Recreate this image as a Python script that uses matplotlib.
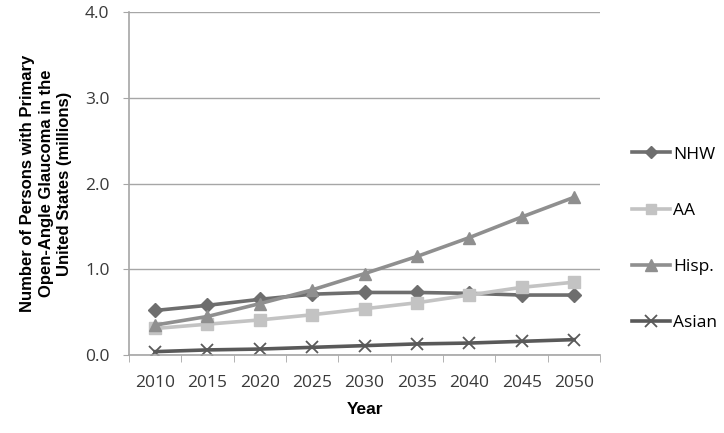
import numpy as np
from matplotlib import pyplot as plt

years = ['2010', '2015', '2020', '2025', '2030', '2035', '2040', '2045', '2050']
nhw = [0.52, 0.58, 0.65, 0.71, 0.73, 0.73, 0.72, 0.70, 0.70]
aa = [0.31, 0.36, 0.41, 0.47, 0.54, 0.61, 0.70, 0.79, 0.85]
hisp = [0.35, 0.45, 0.60, 0.76, 0.95, 1.15, 1.37, 1.61, 1.84]
asian = [0.04, 0.06, 0.07, 0.09, 0.11, 0.13, 0.14, 0.16, 0.18]

fig = plt.figure(figsize=(7.24, 4.33), dpi=100)
ax = fig.add_axes([0.178, 0.180, 0.651, 0.792])

x = np.arange(len(years))
axis_gray = '#a6a6a6'
ax.plot(x, nhw, color='#6e6e6e', lw=2.6, marker='D', ms=7, label='NHW')
ax.plot(x, aa, color='#c3c3c3', lw=2.6, marker='s', ms=8.5, label='AA')
ax.plot(x, hisp, color='#8f8f8f', lw=2.6, marker='^', ms=9, label='Hisp.')
ax.plot(x, asian, color='#595959', lw=2.6, marker='x', ms=9, mew=1.3, label='Asian')

ax.set_xlim(-0.5, len(years) - 0.5)
ax.set_ylim(0, 4)
ax.set_yticks(np.arange(0, 4.1, 1.0))
ax.set_yticklabels([f'{v:.1f}' for v in np.arange(0, 4.1, 1.0)])
ax.set_xticks(x)
ax.set_xticklabels(years)
ax.set_xticks(np.arange(-0.5, len(years)), minor=True)
ax.tick_params(axis='x', which='major', length=0, pad=14)
ax.tick_params(axis='x', which='minor', length=5, color=axis_gray, direction='out')
ax.tick_params(axis='y', length=4, color=axis_gray, pad=10)
for lbl in ax.get_xticklabels() + ax.get_yticklabels():
    lbl.set_fontfamily('Open Sans')
    lbl.set_fontsize(12.5)
    lbl.set_color('#3a3a3a')

ax.grid(axis='y', color=axis_gray, lw=1)
ax.set_axisbelow(True)
for s in ['top', 'right']:
    ax.spines[s].set_visible(False)
for s in ['left', 'bottom']:
    ax.spines[s].set_color(axis_gray)
    ax.spines[s].set_linewidth(1.2)

ax.set_xlabel('Year', fontfamily='Liberation Sans', fontweight='bold', fontsize=12.5, labelpad=8)
ax.set_ylabel('Number of Persons with Primary\nOpen-Angle Glaucoma in the\nUnited States (millions)',
              fontfamily='Liberation Sans', fontweight='bold', fontsize=12, labelpad=9,
              linespacing=1.3)

ax.legend(loc='center left', bbox_to_anchor=(0.851, 0.449), bbox_transform=fig.transFigure,
          frameon=False, labelspacing=2.3, handlelength=2.2, handletextpad=0.2,
          markerscale=0.9, prop={'family': 'Open Sans', 'size': 12.5})

plt.savefig('out.png', dpi=100)
